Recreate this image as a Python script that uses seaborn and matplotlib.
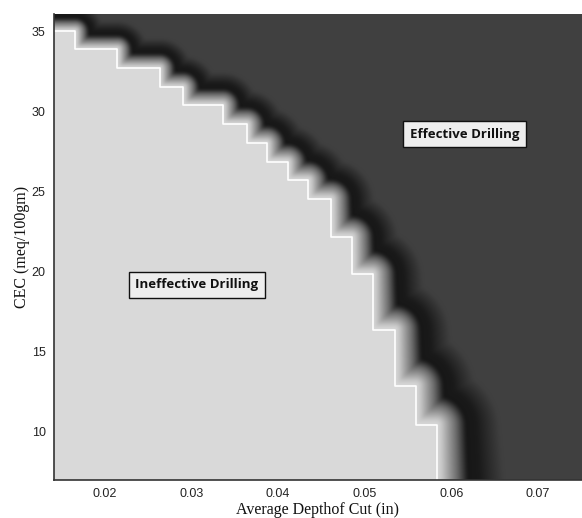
import numpy as np
import matplotlib
matplotlib.use("Agg")
import matplotlib.pyplot as plt
import seaborn as sns
import pandas as pd

# ---- data ----
# staircase decision boundary: x positions where the boundary steps down,
# and the CEC level held from that x until the next step
step_x = [0.0141, 0.0165, 0.0214, 0.0263, 0.0290, 0.0336, 0.0364, 0.0387,
          0.0411, 0.0435, 0.0461, 0.0485, 0.0509, 0.0535, 0.0559, 0.0583]
step_cec = [35.06, 33.94, 32.75, 31.56, 30.44, 29.25, 28.06, 26.88,
            25.75, 24.56, 22.19, 19.88, 16.38, 12.88, 10.44, 7.0]
x_ticks = [0.02, 0.03, 0.04, 0.05, 0.06, 0.07]
y_ticks = [10, 15, 20, 25, 30, 35]
region_labels = ["Ineffective Drilling", "Effective Drilling"]
label_x = [0.0306, 0.0615]
label_y = [19.2, 28.6]

x_lim = (0.0141, 0.0751)
y_lim = (7.0, 36.1)

sns.set_style("white")
plt.rcParams["font.family"] = ["Liberation Sans", "DejaVu Sans"]

fig = plt.figure(figsize=(5.82, 5.18), dpi=100)
ax = fig.add_axes([54 / 582, 38 / 518, 528 / 582, 466 / 518])

# ---- build the decision surface from the staircase ----
px_per_x = 8660.0   # pixel scale used only for distance shading
px_per_y = 16.0
nx, ny = 528, 466
gx = np.linspace(x_lim[0], x_lim[1], nx)
gy = np.linspace(y_lim[0], y_lim[1], ny)
GX, GY = np.meshgrid(gx, gy)

sx = np.array(step_x)
sy = np.array(step_cec)
idx = np.searchsorted(sx, GX[0], side="right") - 1
idx = np.clip(idx, 0, len(sy) - 1)
level = sy[idx]
inside = GY < level[None, :]

# staircase polyline segments (in pixel space)
pts = []
for i in range(len(sx)):
    pts.append((sx[i], sy[i]))
    if i + 1 < len(sx):
        pts.append((sx[i + 1], sy[i]))
pts = np.array(pts)
P = np.column_stack([(pts[:, 0] - x_lim[0]) * px_per_x, pts[:, 1] * px_per_y])
QX = (GX - x_lim[0]) * px_per_x
QY = GY * px_per_y
dist = np.full(GX.shape, np.inf)
for a, b in zip(P[:-1], P[1:]):
    ab = b - a
    L2 = ab @ ab
    if L2 == 0:
        continue
    t = np.clip(((QX - a[0]) * ab[0] + (QY - a[1]) * ab[1]) / L2, 0, 1)
    cx = a[0] + t * ab[0]
    cy = a[1] + t * ab[1]
    dist = np.minimum(dist, np.hypot(QX - cx, QY - cy))

pix_from_top = (y_lim[1] - GY) * px_per_y
width = 19 + 0.06 * pix_from_top
tn = dist / width
val = np.interp(tn, [0.0, 0.1, 0.45, 0.68, 0.92, 1.45, 10],
                [0.85, 0.80, 0.42, 0.09, 0.10, 0.25, 0.25])
val = np.where(inside, 0.85, val)

# soften (box blur) the dark band, keep the light region crisp
k = np.ones(5) / 5.0
blur = np.apply_along_axis(lambda r: np.convolve(np.pad(r, 2, mode="edge"), k, mode="valid"), 1, val)
blur = np.apply_along_axis(lambda c: np.convolve(np.pad(c, 2, mode="edge"), k, mode="valid"), 0, blur)
val = np.where(inside, 0.85, blur)

ax.imshow(val, extent=[x_lim[0], x_lim[1], y_lim[0], y_lim[1]], origin="lower",
          cmap="gray", vmin=0, vmax=1, aspect="auto", interpolation="bilinear")

# white staircase line
df = pd.DataFrame({"x": step_x, "y": step_cec})
sns.lineplot(data=df, x="x", y="y", sort=False, drawstyle="steps-post",
             color="white", lw=1.2, ax=ax)

# region labels
for lab, lx, ly in zip(region_labels, label_x, label_y):
    ax.text(lx, ly, lab, ha="center", va="center", fontsize=9.5,
            fontweight="bold", family=["Open Sans", "DejaVu Sans"], color="#111111",
            bbox=dict(boxstyle="square,pad=0.5", facecolor="#eeeeee",
                      edgecolor="#111111", lw=1))

ax.set_xlim(*x_lim)
ax.set_ylim(*y_lim)
ax.set_xticks(x_ticks)
ax.set_xticklabels([f"{v:.2f}" for v in x_ticks])
ax.set_yticks(y_ticks)
ax.set_yticklabels([str(v) for v in y_ticks])
ax.tick_params(axis="both", labelsize=9, length=2, width=0.6,
               color="#333333", labelcolor="#222222", pad=4)
for s in ["left", "bottom"]:
    ax.spines[s].set_color("#333333")
    ax.spines[s].set_linewidth(1.2)
for s in ["top", "right"]:
    ax.spines[s].set_visible(False)

ax.set_xlabel("Average Depthof Cut (in)", family=["Liberation Serif", "DejaVu Serif"],
              fontsize=11.5, labelpad=1, color="#111111")
ax.set_ylabel("CEC (meq/100gm)", family=["Liberation Serif", "DejaVu Serif"],
              fontsize=11.5, labelpad=1, color="#111111")

fig.savefig("out.png", dpi=100)
